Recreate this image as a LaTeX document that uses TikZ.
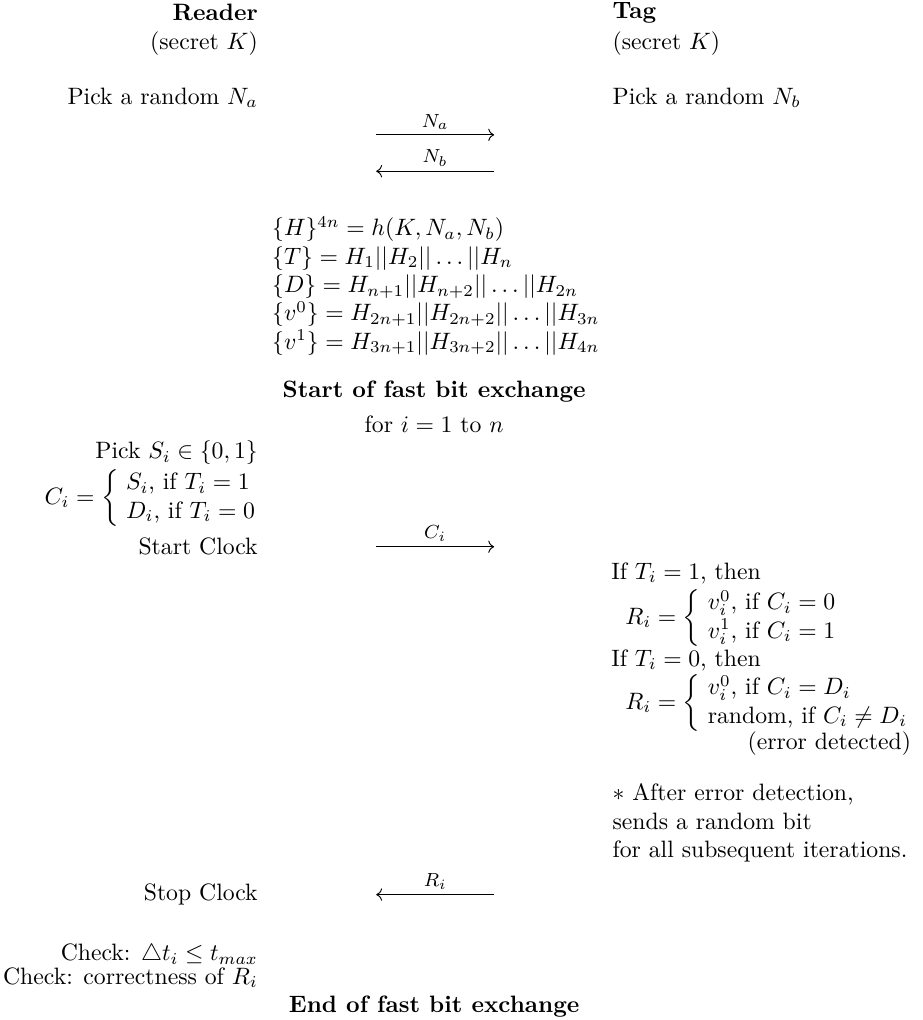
\documentclass[tikz,border=0pt]{standalone}
\usepackage{amsmath, amssymb}
\usepackage{tikz}
\usetikzlibrary{arrows.meta, positioning}
\newcommand{\bitcases}[2]{\left\{\begin{array}{@{\hspace{3pt}}l@{}}#1\\#2\end{array}\right.}

\begin{document}
\begin{tikzpicture}[
    rd/.style={anchor=east, inner sep=0pt},
    tg/.style={anchor=west, inner sep=0pt},
    msg/.style={->, thin},
    lbl/.style={above, font=\footnotesize, inner sep=2pt}]
  \useasboundingbox (0,0) rectangle (13.69,-15.13);
  % parties
  \node[rd, font=\bfseries] (reader) at (3.83,-0.19) {Reader};
  \node[rd] (rkey) at (3.83,-0.64) {(secret $K$)};
  \node[tg, font=\bfseries] (tag) at (9.08,-0.19) {Tag};
  \node[tg] (tkey) at (9.08,-0.64) {(secret $K$)};
  \node[rd] (na) at (3.83,-1.45) {Pick a random $N_a$};
  \node[tg] (nb) at (9.08,-1.45) {Pick a random $N_b$};
  % nonces
  \coordinate (a1) at (5.58,-2.00); \coordinate (a2) at (7.33,-2.00);
  \coordinate (b1) at (5.58,-2.54); \coordinate (b2) at (7.33,-2.54);
  \draw[msg] (a1) -- node[lbl] {$N_a$} (a2);
  \draw[msg] (b2) -- node[lbl] {$N_b$} (b1);
  \node[tg, align=left] (hash) at (4.03,-4.24) {%
    $\{H\}^{4n} = h(K,N_a,N_b)$\\
    $\{T\} = H_1||H_2||\ldots||H_n$\\
    $\{D\} = H_{n+1}||H_{n+2}||\ldots||H_{2n}$\\
    $\{v^0\} = H_{2n+1}||H_{2n+2}||\ldots||H_{3n}$\\
    $\{v^1\} = H_{3n+1}||H_{3n+2}||\ldots||H_{4n}$};
  % fast phase
  \node[font=\bfseries] (start) at (6.44,-5.81) {Start of fast bit exchange};
  \node (loop) at (6.44,-6.30) {for $i=1$ to $n$};
  \node[rd] (pick) at (3.83,-6.72) {Pick $S_i\in\{0,1\}$};
  \node[rd] (ci) at (3.83,-7.39) {$C_i = \bitcases{S_i\text{, if } T_i=1}{D_i\text{, if } T_i=0}$};
  \node[rd] (clk) at (3.83,-8.11) {Start Clock};
  \coordinate (c1) at (5.58,-8.11); \coordinate (c2) at (7.33,-8.11);
  \draw[msg] (c1) -- node[lbl] {$C_i$} (c2);
  \node[tg] (if1) at (9.06,-8.50) {If $T_i=1$, then};
  \node[tg] (r1) at (9.27,-9.17) {$R_i = \bitcases{v_i^0\text{, if } C_i=0}{v_i^1\text{, if } C_i=1}$};
  \node[tg] (if0) at (9.06,-9.79) {If $T_i=0$, then};
  \node[tg] (r0) at (9.27,-10.43) {$R_i = \bitcases{v_i^0\text{, if } C_i=D_i}{\text{random, if } C_i\neq D_i}$};
  \node[rd] (err) at (13.52,-11.03) {(error detected)};
  \node[tg, align=left] (note) at (9.08,-12.21) {$*$ After error detection,\\ sends a random bit\\ for all subsequent iterations.};
  \node[rd] (stop) at (3.83,-13.27) {Stop Clock};
  \coordinate (d1) at (5.58,-13.27); \coordinate (d2) at (7.33,-13.27);
  \draw[msg] (d2) -- node[lbl] {$R_i$} (d1);
  \node[rd] (chk1) at (3.83,-14.16) {Check: $\triangle t_i \leq t_{max}$};
  \node[rd] (chk2) at (3.83,-14.50) {Check: correctness of $R_i$};
  \node[font=\bfseries] (stopx) at (6.44,-14.93) {End of fast bit exchange};
\end{tikzpicture}
\end{document}
